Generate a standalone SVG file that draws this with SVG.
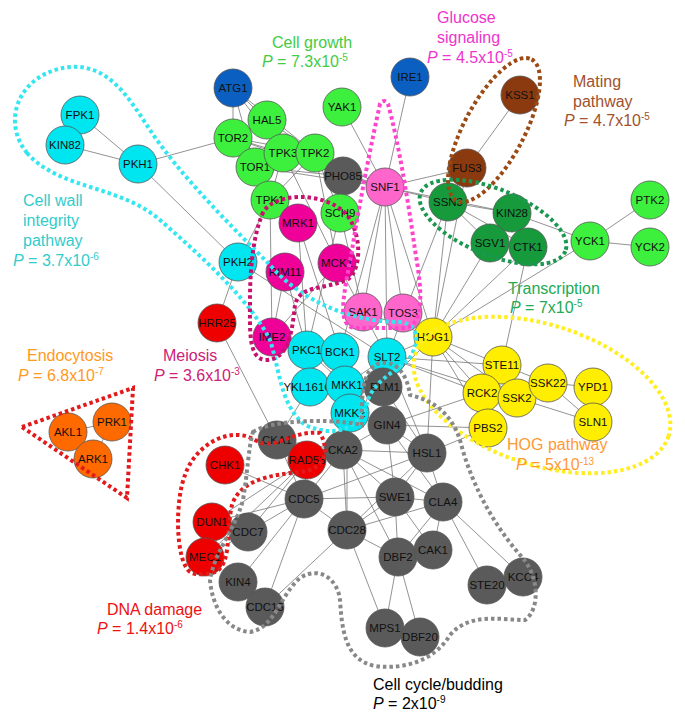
<svg xmlns="http://www.w3.org/2000/svg" width="685" height="722" viewBox="0 0 685 722">
<style>
.e{stroke:#777;stroke-width:0.8;fill:none}
.n circle{stroke:#555;stroke-width:0.8}
.n text{font-family:"Liberation Sans",Arial,sans-serif;font-size:11.5px;text-anchor:middle;fill:#111}
.c{fill:none;stroke-width:4;stroke-dasharray:3.5 3}
.l{font-family:"Liberation Sans",Arial,sans-serif;font-size:16px}
.s{font-size:10px}
.g{fill:#3ef03e}.dg{fill:#169a3c}.b{fill:#0b5fc0}.cy{fill:#00e6f0}.m{fill:#ee0099}.pk{fill:#ff66cc}.r{fill:#ee0000}.gr{fill:#5a5a5a}.y{fill:#ffee00}.br{fill:#8b3a0f}.o{fill:#ff6a00}
</style>
<rect width="685" height="722" fill="#fff"/>
<g id="connectors">
<line class="e" x1="80" y1="115" x2="138" y2="164"/><line class="e" x1="65" y1="145" x2="138" y2="164"/><line class="e" x1="138" y1="164" x2="233" y2="138"/><line class="e" x1="138" y1="164" x2="238" y2="262"/><line class="e" x1="238" y1="262" x2="270" y2="200"/><line class="e" x1="238" y1="262" x2="217" y2="323"/><line class="e" x1="217" y1="323" x2="277" y2="440"/>
<line class="e" x1="233" y1="88" x2="267" y2="120"/><line class="e" x1="233" y1="88" x2="233" y2="138"/><line class="e" x1="233" y1="88" x2="283" y2="153"/><line class="e" x1="233" y1="88" x2="315" y2="153"/><line class="e" x1="233" y1="88" x2="255" y2="167"/><line class="e" x1="267" y1="120" x2="315" y2="153"/><line class="e" x1="267" y1="120" x2="233" y2="138"/><line class="e" x1="233" y1="138" x2="283" y2="153"/><line class="e" x1="233" y1="138" x2="315" y2="153"/><line class="e" x1="233" y1="138" x2="343" y2="176"/><line class="e" x1="255" y1="167" x2="283" y2="153"/><line class="e" x1="255" y1="167" x2="343" y2="176"/><line class="e" x1="255" y1="167" x2="385" y2="187"/><line class="e" x1="283" y1="153" x2="385" y2="187"/><line class="e" x1="315" y1="153" x2="385" y2="187"/><line class="e" x1="315" y1="153" x2="340" y2="213"/><line class="e" x1="270" y1="200" x2="283" y2="153"/><line class="e" x1="270" y1="200" x2="255" y2="167"/><line class="e" x1="270" y1="200" x2="315" y2="153"/><line class="e" x1="270" y1="200" x2="298" y2="223"/><line class="e" x1="270" y1="200" x2="272" y2="337"/><line class="e" x1="283" y1="153" x2="337" y2="263"/><line class="e" x1="315" y1="153" x2="337" y2="263"/><line class="e" x1="255" y1="167" x2="298" y2="223"/>
<line class="e" x1="342" y1="107" x2="385" y2="187"/><line class="e" x1="410" y1="77" x2="385" y2="187"/><line class="e" x1="385" y1="187" x2="343" y2="176"/><line class="e" x1="385" y1="187" x2="448" y2="202"/><line class="e" x1="385" y1="187" x2="363" y2="312"/><line class="e" x1="385" y1="187" x2="403" y2="313"/><line class="e" x1="385" y1="187" x2="467" y2="168"/><line class="e" x1="385" y1="187" x2="512" y2="213"/><line class="e" x1="385" y1="187" x2="433" y2="337"/><line class="e" x1="385" y1="187" x2="387" y2="357"/><line class="e" x1="385" y1="187" x2="340" y2="352"/><line class="e" x1="340" y1="213" x2="363" y2="312"/><line class="e" x1="340" y1="213" x2="307" y2="350"/><line class="e" x1="298" y1="223" x2="340" y2="352"/><line class="e" x1="298" y1="223" x2="307" y2="350"/><line class="e" x1="285" y1="272" x2="272" y2="337"/><line class="e" x1="337" y1="263" x2="272" y2="337"/><line class="e" x1="337" y1="263" x2="363" y2="312"/><line class="e" x1="285" y1="272" x2="307" y2="350"/><line class="e" x1="238" y1="262" x2="387" y2="357"/>
<line class="e" x1="520" y1="95" x2="467" y2="168"/><line class="e" x1="467" y1="168" x2="448" y2="202"/><line class="e" x1="467" y1="168" x2="433" y2="337"/><line class="e" x1="448" y1="202" x2="512" y2="213"/><line class="e" x1="448" y1="202" x2="490" y2="243"/><line class="e" x1="448" y1="202" x2="528" y2="247"/><line class="e" x1="512" y1="213" x2="590" y2="241"/><line class="e" x1="512" y1="213" x2="528" y2="247"/><line class="e" x1="448" y1="202" x2="433" y2="337"/><line class="e" x1="448" y1="202" x2="387" y2="357"/><line class="e" x1="490" y1="243" x2="433" y2="337"/><line class="e" x1="528" y1="247" x2="433" y2="337"/><line class="e" x1="590" y1="241" x2="650" y2="200"/><line class="e" x1="590" y1="241" x2="650" y2="247"/><line class="e" x1="590" y1="241" x2="433" y2="337"/><line class="e" x1="528" y1="247" x2="502" y2="365"/>
<line class="e" x1="363" y1="312" x2="387" y2="357"/><line class="e" x1="403" y1="313" x2="433" y2="337"/><line class="e" x1="363" y1="312" x2="433" y2="337"/><line class="e" x1="433" y1="337" x2="502" y2="365"/><line class="e" x1="433" y1="337" x2="482" y2="393"/><line class="e" x1="433" y1="337" x2="517" y2="398"/><line class="e" x1="433" y1="337" x2="488" y2="428"/><line class="e" x1="433" y1="337" x2="387" y2="357"/><line class="e" x1="433" y1="337" x2="427" y2="453"/><line class="e" x1="433" y1="337" x2="383" y2="387"/><line class="e" x1="502" y1="365" x2="548" y2="383"/><line class="e" x1="502" y1="365" x2="517" y2="398"/><line class="e" x1="548" y1="383" x2="593" y2="387"/><line class="e" x1="548" y1="383" x2="593" y2="422"/><line class="e" x1="517" y1="398" x2="593" y2="422"/><line class="e" x1="593" y1="387" x2="593" y2="422"/><line class="e" x1="482" y1="393" x2="387" y2="357"/><line class="e" x1="488" y1="428" x2="427" y2="453"/><line class="e" x1="488" y1="428" x2="387" y2="425"/><line class="e" x1="482" y1="393" x2="387" y2="425"/><line class="e" x1="502" y1="365" x2="387" y2="357"/><line class="e" x1="517" y1="398" x2="387" y2="357"/>
<line class="e" x1="307" y1="350" x2="340" y2="352"/><line class="e" x1="340" y1="352" x2="345" y2="385"/><line class="e" x1="340" y1="352" x2="350" y2="413"/><line class="e" x1="345" y1="385" x2="387" y2="357"/><line class="e" x1="350" y1="413" x2="387" y2="357"/><line class="e" x1="307" y1="350" x2="310" y2="387"/><line class="e" x1="307" y1="350" x2="345" y2="385"/><line class="e" x1="387" y1="357" x2="383" y2="387"/><line class="e" x1="383" y1="387" x2="387" y2="425"/><line class="e" x1="383" y1="387" x2="427" y2="453"/><line class="e" x1="387" y1="425" x2="343" y2="450"/><line class="e" x1="387" y1="425" x2="427" y2="453"/><line class="e" x1="387" y1="425" x2="443" y2="502"/><line class="e" x1="387" y1="425" x2="395" y2="497"/><line class="e" x1="310" y1="387" x2="277" y2="440"/><line class="e" x1="387" y1="357" x2="427" y2="453"/><line class="e" x1="387" y1="357" x2="343" y2="450"/>
<line class="e" x1="277" y1="440" x2="343" y2="450"/><line class="e" x1="277" y1="440" x2="307" y2="460"/><line class="e" x1="277" y1="440" x2="304" y2="499"/><line class="e" x1="343" y1="450" x2="307" y2="460"/><line class="e" x1="343" y1="450" x2="427" y2="453"/><line class="e" x1="343" y1="450" x2="304" y2="499"/><line class="e" x1="343" y1="450" x2="347" y2="530"/><line class="e" x1="343" y1="450" x2="395" y2="497"/><line class="e" x1="343" y1="450" x2="443" y2="502"/><line class="e" x1="343" y1="450" x2="398" y2="557"/><line class="e" x1="307" y1="460" x2="212" y2="522"/><line class="e" x1="307" y1="460" x2="248" y2="532"/><line class="e" x1="307" y1="460" x2="205" y2="557"/><line class="e" x1="307" y1="460" x2="304" y2="499"/><line class="e" x1="427" y1="453" x2="395" y2="497"/><line class="e" x1="427" y1="453" x2="443" y2="502"/><line class="e" x1="427" y1="453" x2="347" y2="530"/><line class="e" x1="427" y1="453" x2="304" y2="499"/><line class="e" x1="395" y1="497" x2="443" y2="502"/><line class="e" x1="395" y1="497" x2="347" y2="530"/><line class="e" x1="395" y1="497" x2="304" y2="499"/><line class="e" x1="395" y1="497" x2="398" y2="557"/><line class="e" x1="395" y1="497" x2="433" y2="550"/><line class="e" x1="443" y1="502" x2="347" y2="530"/><line class="e" x1="443" y1="502" x2="398" y2="557"/><line class="e" x1="443" y1="502" x2="433" y2="550"/><line class="e" x1="443" y1="502" x2="487" y2="585"/><line class="e" x1="443" y1="502" x2="523" y2="577"/><line class="e" x1="304" y1="499" x2="248" y2="532"/><line class="e" x1="304" y1="499" x2="347" y2="530"/><line class="e" x1="304" y1="499" x2="238" y2="582"/><line class="e" x1="304" y1="499" x2="265" y2="607"/><line class="e" x1="304" y1="499" x2="212" y2="522"/><line class="e" x1="347" y1="530" x2="265" y2="607"/><line class="e" x1="347" y1="530" x2="385" y2="628"/><line class="e" x1="347" y1="530" x2="398" y2="557"/><line class="e" x1="398" y1="557" x2="385" y2="628"/><line class="e" x1="398" y1="557" x2="420" y2="637"/><line class="e" x1="433" y1="550" x2="398" y2="557"/><line class="e" x1="225" y1="465" x2="304" y2="499"/><line class="e" x1="205" y1="557" x2="248" y2="532"/><line class="e" x1="212" y1="522" x2="248" y2="532"/><line class="e" x1="347" y1="450" x2="347" y2="530"/>
<line class="e" x1="68" y1="432" x2="112" y2="422"/><line class="e" x1="68" y1="432" x2="93" y2="459"/><line class="e" x1="112" y1="422" x2="93" y2="459"/>
</g>
<g id="nodes">
<g id="FPK1" class="n"><circle class="cy" cx="80" cy="115" r="19"/><text x="80" y="119">FPK1</text></g>
<g id="KIN82" class="n"><circle class="cy" cx="65" cy="145" r="19"/><text x="65" y="149">KIN82</text></g>
<g id="PKH1" class="n"><circle class="cy" cx="138" cy="164" r="19"/><text x="138" y="168">PKH1</text></g>
<g id="PKH2" class="n"><circle class="cy" cx="238" cy="262" r="19"/><text x="238" y="266">PKH2</text></g>
<g id="ATG1" class="n"><circle class="b" cx="233" cy="88" r="19"/><text x="233" y="92">ATG1</text></g>
<g id="IRE1" class="n"><circle class="b" cx="410" cy="77" r="19"/><text x="410" y="81">IRE1</text></g>
<g id="HAL5" class="n"><circle class="g" cx="267" cy="120" r="19"/><text x="267" y="124">HAL5</text></g>
<g id="TOR2" class="n"><circle class="g" cx="233" cy="138" r="19"/><text x="233" y="142">TOR2</text></g>
<g id="TOR1" class="n"><circle class="g" cx="255" cy="167" r="19"/><text x="255" y="171">TOR1</text></g>
<g id="TPK3" class="n"><circle class="g" cx="283" cy="153" r="19"/><text x="283" y="157">TPK3</text></g>
<g id="TPK2" class="n"><circle class="g" cx="315" cy="153" r="19"/><text x="315" y="157">TPK2</text></g>
<g id="YAK1" class="n"><circle class="g" cx="342" cy="107" r="19"/><text x="342" y="111">YAK1</text></g>
<g id="PHO85" class="n"><circle class="gr" cx="343" cy="176" r="19"/><text x="343" y="180">PHO85</text></g>
<g id="TPK1" class="n"><circle class="g" cx="270" cy="200" r="19"/><text x="270" y="204">TPK1</text></g>
<g id="SCH9" class="n"><circle class="g" cx="340" cy="213" r="19"/><text x="340" y="217">SCH9</text></g>
<g id="MRK1" class="n"><circle class="m" cx="298" cy="223" r="19"/><text x="298" y="227">MRK1</text></g>
<g id="SNF1" class="n"><circle class="pk" cx="385" cy="187" r="19"/><text x="385" y="191">SNF1</text></g>
<g id="RIM11" class="n"><circle class="m" cx="285" cy="272" r="19"/><text x="285" y="276">RIM11</text></g>
<g id="MCK1" class="n"><circle class="m" cx="337" cy="263" r="19"/><text x="337" y="267">MCK1</text></g>
<g id="IME2" class="n"><circle class="m" cx="272" cy="337" r="19"/><text x="272" y="341">IME2</text></g>
<g id="HRR25" class="n"><circle class="r" cx="217" cy="323" r="19"/><text x="217" y="327">HRR25</text></g>
<g id="SAK1" class="n"><circle class="pk" cx="363" cy="312" r="19"/><text x="363" y="316">SAK1</text></g>
<g id="TOS3" class="n"><circle class="pk" cx="403" cy="313" r="19"/><text x="403" y="317">TOS3</text></g>
<g id="KSS1" class="n"><circle class="br" cx="520" cy="95" r="19"/><text x="520" y="99">KSS1</text></g>
<g id="FUS3" class="n"><circle class="br" cx="467" cy="168" r="19"/><text x="467" y="172">FUS3</text></g>
<g id="SSN3" class="n"><circle class="dg" cx="448" cy="202" r="19"/><text x="448" y="206">SSN3</text></g>
<g id="KIN28" class="n"><circle class="dg" cx="512" cy="213" r="19"/><text x="512" y="217">KIN28</text></g>
<g id="SGV1" class="n"><circle class="dg" cx="490" cy="243" r="19"/><text x="490" y="247">SGV1</text></g>
<g id="CTK1" class="n"><circle class="dg" cx="528" cy="247" r="19"/><text x="528" y="251">CTK1</text></g>
<g id="YCK1" class="n"><circle class="g" cx="590" cy="241" r="19"/><text x="590" y="245">YCK1</text></g>
<g id="PTK2" class="n"><circle class="g" cx="650" cy="200" r="19"/><text x="650" y="204">PTK2</text></g>
<g id="YCK2" class="n"><circle class="g" cx="650" cy="247" r="19"/><text x="650" y="251">YCK2</text></g>
<g id="PKC1" class="n"><circle class="cy" cx="307" cy="350" r="19"/><text x="307" y="354">PKC1</text></g>
<g id="BCK1" class="n"><circle class="cy" cx="340" cy="352" r="19"/><text x="340" y="356">BCK1</text></g>
<g id="SLT2" class="n"><circle class="cy" cx="387" cy="357" r="19"/><text x="387" y="361">SLT2</text></g>
<g id="HOG1" class="n"><circle class="y" cx="433" cy="337" r="19"/><text x="433" y="341">HOG1</text></g>
<g id="YKL161C" class="n"><circle class="cy" cx="310" cy="387" r="19"/><text x="308" y="391" font-size="10.5">YKL161C</text></g>
<g id="MKK1" class="n"><circle class="cy" cx="345" cy="385" r="19"/><text x="347" y="389">MKK1</text></g>
<g id="MKK2" class="n"><circle class="cy" cx="350" cy="413" r="19"/><text x="350" y="417">MKK2</text></g>
<g id="ELM1" class="n"><circle class="gr" cx="383" cy="387" r="19"/><text x="385" y="391">ELM1</text></g>
<g id="GIN4" class="n"><circle class="gr" cx="387" cy="425" r="19"/><text x="387" y="429">GIN4</text></g>
<g id="STE11" class="n"><circle class="y" cx="502" cy="365" r="19"/><text x="502" y="369">STE11</text></g>
<g id="RCK2" class="n"><circle class="y" cx="482" cy="393" r="19"/><text x="482" y="397">RCK2</text></g>
<g id="SSK2" class="n"><circle class="y" cx="517" cy="398" r="19"/><text x="517" y="402">SSK2</text></g>
<g id="SSK22" class="n"><circle class="y" cx="548" cy="383" r="19"/><text x="548" y="387">SSK22</text></g>
<g id="YPD1" class="n"><circle class="y" cx="593" cy="387" r="19"/><text x="593" y="391">YPD1</text></g>
<g id="SLN1" class="n"><circle class="y" cx="593" cy="422" r="19"/><text x="593" y="426">SLN1</text></g>
<g id="PBS2" class="n"><circle class="y" cx="488" cy="428" r="19"/><text x="488" y="432">PBS2</text></g>
<g id="AKL1" class="n"><circle class="o" cx="68" cy="432" r="19"/><text x="68" y="436">AKL1</text></g>
<g id="PRK1" class="n"><circle class="o" cx="112" cy="422" r="19"/><text x="112" y="426">PRK1</text></g>
<g id="ARK1" class="n"><circle class="o" cx="93" cy="459" r="19"/><text x="93" y="463">ARK1</text></g>
<g id="CKA1" class="n"><circle class="gr" cx="277" cy="440" r="19"/><text x="277" y="444">CKA1</text></g>
<g id="CKA2" class="n"><circle class="gr" cx="343" cy="450" r="19"/><text x="343" y="454">CKA2</text></g>
<g id="RAD53" class="n"><circle class="r" cx="307" cy="460" r="19"/><text x="307" y="464">RAD53</text></g>
<g id="HSL1" class="n"><circle class="gr" cx="427" cy="453" r="19"/><text x="427" y="457">HSL1</text></g>
<g id="CHK1" class="n"><circle class="r" cx="225" cy="465" r="19"/><text x="225" y="469">CHK1</text></g>
<g id="CDC5" class="n"><circle class="gr" cx="304" cy="499" r="19"/><text x="304" y="503">CDC5</text></g>
<g id="SWE1" class="n"><circle class="gr" cx="395" cy="497" r="19"/><text x="395" y="501">SWE1</text></g>
<g id="CLA4" class="n"><circle class="gr" cx="443" cy="502" r="19"/><text x="443" y="506">CLA4</text></g>
<g id="DUN1" class="n"><circle class="r" cx="212" cy="522" r="19"/><text x="212" y="526">DUN1</text></g>
<g id="CDC7" class="n"><circle class="gr" cx="248" cy="532" r="19"/><text x="248" y="536">CDC7</text></g>
<g id="CDC28" class="n"><circle class="gr" cx="347" cy="530" r="19"/><text x="347" y="534">CDC28</text></g>
<g id="MEC1" class="n"><circle class="r" cx="205" cy="557" r="19"/><text x="205" y="561">MEC1</text></g>
<g id="DBF2" class="n"><circle class="gr" cx="398" cy="557" r="19"/><text x="398" y="561">DBF2</text></g>
<g id="CAK1" class="n"><circle class="gr" cx="433" cy="550" r="19"/><text x="433" y="554">CAK1</text></g>
<g id="KIN4" class="n"><circle class="gr" cx="238" cy="582" r="19"/><text x="238" y="586">KIN4</text></g>
<g id="CDC15" class="n"><circle class="gr" cx="265" cy="607" r="19"/><text x="265" y="611">CDC15</text></g>
<g id="STE20" class="n"><circle class="gr" cx="487" cy="585" r="19"/><text x="487" y="589">STE20</text></g>
<g id="KCC4" class="n"><circle class="gr" cx="523" cy="577" r="19"/><text x="523" y="581">KCC4</text></g>
<g id="MPS1" class="n"><circle class="gr" cx="385" cy="628" r="19"/><text x="385" y="632">MPS1</text></g>
<g id="DBF20" class="n"><circle class="gr" cx="420" cy="637" r="19"/><text x="420" y="641">DBF20</text></g>
</g>
<g id="contours">
<path class="c" stroke="#33e6f0" d="M27,153 C0,120 20,72 70,67 C110,64 130,100 150,130 C180,175 230,225 270,265 C300,300 350,322 400,322 C420,324 420,345 408,360 C395,372 375,380 368,400 C362,425 340,440 305,425 C280,405 280,370 270,340 C250,300 200,255 160,220 C120,185 60,190 27,153 Z"/>
<path class="c" stroke="#c8106e" d="M262,215 C270,192 325,190 347,215 C362,235 362,270 347,280 C322,290 300,285 295,305 C292,330 290,360 265,360 C248,358 250,330 250,300 C250,260 255,232 262,215 Z"/>
<path class="c" stroke="#ff44cc" d="M380,104 C372,140 360,200 352,250 C345,290 335,326 355,328 L405,328 C425,325 422,290 415,250 C408,200 398,140 388,104 C386,100 382,100 380,104 Z"/>
<ellipse class="c" stroke="#9a4a12" cx="494" cy="130" rx="80" ry="30" transform="rotate(-62 494 130)"/>
<ellipse class="c" stroke="#1a9850" cx="493" cy="222" rx="78" ry="33" transform="rotate(22 493 222)"/>
<ellipse class="c" stroke="#ffee22" cx="542" cy="395" rx="133" ry="70" transform="rotate(18 542 395)"/>
<path class="c" stroke="#e31a1c" d="M190,572 C175,560 175,500 185,475 C195,445 230,425 255,440 C275,452 290,430 320,433 C330,450 325,470 300,472 C270,475 240,480 232,505 C226,530 232,565 215,572 C205,575 195,575 190,572 Z"/>
<path class="c" stroke="#e31a1c" d="M22,427 L133,388 L127,498 Z"/>
<path class="c" stroke="#888" d="M253,432 C270,420 330,418 362,425 C362,400 360,370 380,363 C400,360 408,380 410,395 C430,400 450,410 460,440 C470,480 490,520 520,555 C540,575 540,610 525,620 C500,620 470,612 450,635 C435,660 405,670 375,666 C345,660 342,630 340,600 C338,580 320,565 300,578 C280,595 275,628 250,632 C225,630 212,605 210,580 C215,550 235,530 243,500 C248,470 248,450 253,432 Z"/>
</g>
<g id="labels" class="l">
<text x="272" y="48" fill="#44cc44">Cell growth</text>
<text x="262" y="67" fill="#44cc44"><tspan font-style="italic">P</tspan> = 7.3x10<tspan class="s" dy="-6">-5</tspan></text>
<text x="437" y="23" fill="#ee33cc">Glucose</text>
<text x="437" y="43" fill="#ee33cc">signaling</text>
<text x="427" y="63" fill="#ee33cc"><tspan font-style="italic">P</tspan> = 4.5x10<tspan class="s" dy="-6">-5</tspan></text>
<text x="573" y="87" fill="#a0522d">Mating</text>
<text x="573" y="107" fill="#a0522d">pathway</text>
<text x="564" y="126" fill="#a0522d"><tspan font-style="italic">P</tspan> = 4.7x10<tspan class="s" dy="-6">-5</tspan></text>
<text x="23" y="206" fill="#33cccc">Cell wall</text>
<text x="23" y="226" fill="#33cccc">integrity</text>
<text x="23" y="246" fill="#33cccc">pathway</text>
<text x="13" y="266" fill="#33cccc"><tspan font-style="italic">P</tspan> = 3.7x10<tspan class="s" dy="-6">-6</tspan></text>
<text x="508" y="294" fill="#22aa55">Transcription</text>
<text x="510" y="313" fill="#22aa55"><tspan font-style="italic">P</tspan> = 7x10<tspan class="s" dy="-6">-5</tspan></text>
<text x="27" y="361" fill="#ff9922">Endocytosis</text>
<text x="18" y="381" fill="#ff9922"><tspan font-style="italic">P</tspan> = 6.8x10<tspan class="s" dy="-6">-7</tspan></text>
<text x="163" y="361" fill="#cc2277">Meiosis</text>
<text x="154" y="381" fill="#cc2277"><tspan font-style="italic">P</tspan> = 3.6x10<tspan class="s" dy="-6">-3</tspan></text>
<text x="507" y="450" fill="#ff9933">HOG pathway</text>
<text x="516" y="470" fill="#ff9933"><tspan font-style="italic">P</tspan> = 5x10<tspan class="s" dy="-5">-13</tspan></text>
<text x="107" y="615" fill="#ee1111">DNA damage</text>
<text x="97" y="634" fill="#ee1111"><tspan font-style="italic">P</tspan> = 1.4x10<tspan class="s" dy="-6">-6</tspan></text>
<text x="373" y="690" fill="#000">Cell cycle/budding</text>
<text x="373" y="709" fill="#000"><tspan font-style="italic">P</tspan> = 2x10<tspan class="s" dy="-6">-9</tspan></text>
</g>
</svg>
